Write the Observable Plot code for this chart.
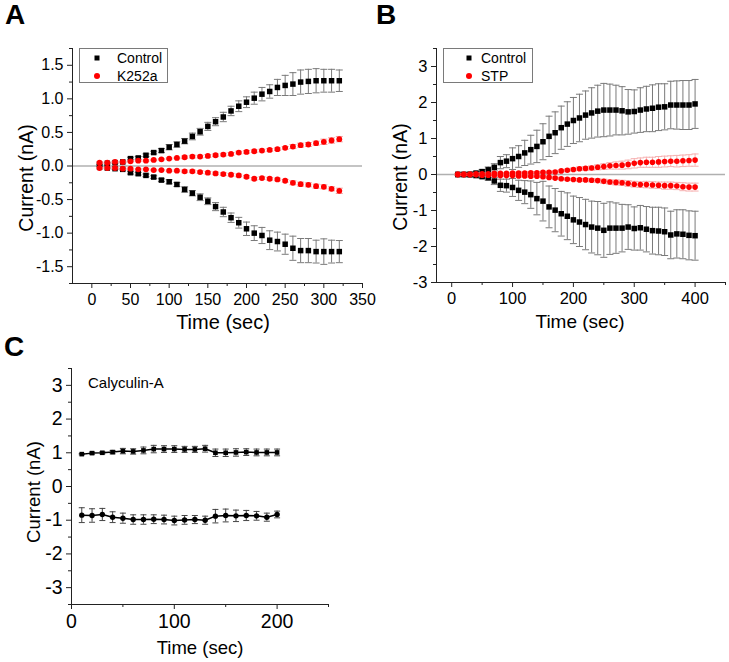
<!DOCTYPE html>
<html>
<head>
<meta charset="utf-8">
<script src="https://cdn.jsdelivr.net/npm/d3@7"></script>
<script src="https://cdn.jsdelivr.net/npm/@observablehq/plot@0.6"></script>
<style>
  html, body { margin: 0; padding: 0; background: #fff; }
  #fig { position: relative; width: 729px; height: 662px; background: #fff; overflow: hidden;
         font-family: "Liberation Sans", Arial, sans-serif; color: #000; }
  .lbl { position: absolute; line-height: 1; white-space: nowrap; }
  .letter { font-weight: bold; font-size: 28px; }
  .title { font-size: 20px; transform: translate(-50%, -50%); }
  .ytitle { font-size: 19.5px; transform: translate(-50%, -50%) rotate(-90deg); }
  .legend { position: absolute; border: 1px solid #7a7a7a; box-sizing: border-box; background: #fff; }
  .legtext { position: absolute; font-size: 14px; line-height: 1; transform: translateY(-50%); white-space: nowrap; }
  .sq { position: absolute; width: 5px; height: 5px; background: #000; transform: translate(-50%, -50%); }
  .ci { position: absolute; width: 6px; height: 6px; border-radius: 50%; background: #f00; transform: translate(-50%, -50%); }
</style>
</head>
<body>
<div id="fig"></div>
<script>
// ---------------- Data ----------------
// Panel A (time, sec)
const timeA = [10,20,30,40,50,60,70,80,90,100,110,120,130,140,150,160,170,180,190,200,210,220,230,240,250,260,270,280,290,300,310,320];
const aControlPos    = [0.03,0.04,0.05,0.06,0.11,0.12,0.16,0.20,0.23,0.28,0.32,0.37,0.44,0.51,0.59,0.66,0.73,0.82,0.89,0.95,1.01,1.07,1.11,1.17,1.20,1.22,1.25,1.26,1.27,1.27,1.27,1.27];
const aControlPosErr = [0.01,0.01,0.01,0.01,0.02,0.02,0.02,0.02,0.03,0.04,0.04,0.04,0.05,0.05,0.06,0.06,0.07,0.07,0.08,0.08,0.09,0.10,0.10,0.12,0.15,0.17,0.18,0.18,0.18,0.17,0.17,0.16];
const aControlNeg    = [-0.02,-0.03,-0.04,-0.05,-0.10,-0.115,-0.14,-0.165,-0.21,-0.235,-0.275,-0.35,-0.405,-0.465,-0.525,-0.605,-0.685,-0.77,-0.845,-0.935,-1.00,-1.035,-1.105,-1.125,-1.165,-1.225,-1.26,-1.26,-1.275,-1.275,-1.275,-1.275];
const aControlNegErr = [0.01,0.01,0.01,0.01,0.02,0.02,0.02,0.02,0.02,0.03,0.03,0.04,0.04,0.05,0.05,0.06,0.07,0.07,0.08,0.10,0.11,0.12,0.14,0.14,0.15,0.18,0.18,0.18,0.17,0.19,0.17,0.165];
const aK252aPos      = [0.05,0.05,0.06,0.06,0.07,0.08,0.08,0.09,0.10,0.11,0.12,0.13,0.14,0.14,0.15,0.16,0.17,0.18,0.20,0.21,0.22,0.23,0.24,0.25,0.27,0.29,0.31,0.32,0.34,0.36,0.38,0.40];
const aK252aPosErr   = [0.01,0.01,0.01,0.01,0.01,0.01,0.01,0.01,0.01,0.01,0.01,0.02,0.02,0.02,0.02,0.02,0.02,0.02,0.02,0.02,0.02,0.02,0.02,0.02,0.02,0.03,0.03,0.03,0.03,0.04,0.04,0.04];
const aK252aNeg      = [-0.03,-0.03,-0.03,-0.04,-0.04,-0.05,-0.05,-0.06,-0.06,-0.07,-0.07,-0.08,-0.08,-0.09,-0.10,-0.11,-0.12,-0.13,-0.14,-0.16,-0.19,-0.18,-0.19,-0.20,-0.22,-0.25,-0.27,-0.28,-0.30,-0.31,-0.34,-0.37];
const aK252aNegErr   = [0.01,0.01,0.01,0.01,0.01,0.01,0.01,0.01,0.01,0.01,0.01,0.02,0.02,0.02,0.02,0.02,0.02,0.02,0.02,0.02,0.02,0.02,0.02,0.02,0.02,0.03,0.03,0.03,0.03,0.03,0.03,0.04];

// Panel B
const timeB = [10,20,30,40,50,60,70,80,90,100,110,120,130,140,150,160,170,180,190,200,210,220,230,240,250,260,270,280,290,300,310,320,330,340,350,360,370,380,390,400];
const bControlPos    = [0.00,0.00,0.01,0.04,0.08,0.13,0.20,0.33,0.37,0.44, 0.50,0.60,0.69,0.78,0.91,1.06,1.16,1.30,1.40,1.50, 1.57,1.65,1.71,1.76,1.79,1.79,1.79,1.77,1.74,1.75, 1.79,1.82,1.84,1.87,1.88,1.93,1.93,1.93,1.93,1.96];
const bControlPosErr = [0.02,0.02,0.03,0.04,0.06,0.08,0.10,0.17,0.18,0.30, 0.30,0.35,0.40,0.45,0.50,0.56,0.58,0.60,0.62,0.64, 0.66,0.67,0.70,0.72,0.74,0.72,0.69,0.67,0.62,0.60, 0.62,0.63,0.65,0.65,0.64,0.66,0.67,0.68,0.68,0.68];
const bControlNeg    = [0.00,0.00,-0.01,-0.03,-0.06,-0.09,-0.18,-0.30,-0.31,-0.36, -0.44,-0.49,-0.56,-0.67,-0.74,-0.90,-0.99,-1.09,-1.16,-1.26, -1.32,-1.39,-1.46,-1.49,-1.55,-1.49,-1.49,-1.49,-1.46,-1.50, -1.48,-1.52,-1.56,-1.57,-1.59,-1.68,-1.65,-1.66,-1.69,-1.70];
const bControlNegErr = [0.02,0.02,0.03,0.04,0.05,0.07,0.10,0.17,0.18,0.25, 0.28,0.32,0.38,0.45,0.55,0.58,0.60,0.62,0.65,0.66, 0.68,0.70,0.72,0.74,0.75,0.73,0.70,0.66,0.62,0.60, 0.62,0.63,0.65,0.66,0.66,0.66,0.67,0.68,0.68,0.68];
const bSTPPos        = [0.01,0.01,0.01,0.02,0.02,0.02,0.03,0.03,0.03,0.04, 0.04,0.04,0.05,0.05,0.06,0.06,0.07,0.10,0.12,0.14, 0.16,0.17,0.18,0.20,0.22,0.24,0.25,0.26,0.28,0.31, 0.33,0.34,0.34,0.35,0.36,0.37,0.37,0.38,0.39,0.40];
const bSTPPosErr     = [0.02,0.02,0.02,0.02,0.02,0.02,0.02,0.02,0.02,0.02, 0.03,0.03,0.03,0.03,0.03,0.03,0.03,0.03,0.03,0.04, 0.05,0.05,0.06,0.07,0.08,0.09,0.10,0.11,0.12,0.13, 0.13,0.14,0.14,0.15,0.15,0.15,0.16,0.16,0.16,0.17];
const bSTPNeg        = [-0.01,-0.01,-0.01,-0.01,-0.02,-0.02,-0.02,-0.03,-0.03,-0.03, -0.04,-0.04,-0.05,-0.05,-0.06,-0.08,-0.10,-0.12,-0.13,-0.14, -0.15,-0.15,-0.16,-0.17,-0.19,-0.21,-0.22,-0.23,-0.25,-0.27, -0.28,-0.28,-0.29,-0.30,-0.31,-0.31,-0.32,-0.34,-0.35,-0.35];
const bSTPNegErr     = [0.02,0.02,0.02,0.02,0.02,0.02,0.02,0.02,0.02,0.02, 0.03,0.03,0.03,0.03,0.03,0.03,0.03,0.03,0.03,0.03, 0.04,0.04,0.05,0.05,0.06,0.06,0.07,0.07,0.08,0.08, 0.08,0.09,0.09,0.09,0.10,0.10,0.10,0.11,0.11,0.11];

// Panel C
const timeC = [10,20,30,40,50,60,70,80,90,100,110,120,130,140,150,160,170,180,190,200];
const cPos    = [0.96,0.99,1.00,1.02,1.05,1.04,1.07,1.11,1.11,1.11,1.10,1.10,1.12,1.00,1.00,1.01,1.02,1.01,1.01,1.01];
const cPosErr = [0.02,0.03,0.03,0.05,0.08,0.08,0.10,0.11,0.10,0.10,0.09,0.09,0.10,0.11,0.11,0.11,0.10,0.10,0.10,0.10];
const cNeg    = [-0.85,-0.86,-0.83,-0.91,-0.94,-0.98,-0.98,-0.97,-0.98,-1.01,-0.99,-0.98,-1.00,-0.88,-0.86,-0.87,-0.86,-0.87,-0.91,-0.83];
const cNegErr = [0.22,0.20,0.18,0.16,0.15,0.14,0.14,0.13,0.13,0.13,0.13,0.12,0.12,0.20,0.19,0.17,0.15,0.13,0.12,0.10];

// Axis ticks
const aXTicks = [0,50,100,150,200,250,300,350];
const aXMinor = [25,75,125,175,225,275,325];
const aYTicks = [-1.5,-1,-0.5,0,0.5,1,1.5];
const aYMinor = [-1.75,-1.25,-0.75,-0.25,0.25,0.75,1.25,1.75];
const bXTicks = [0,100,200,300,400];
const bXMinor = [50,150,250,350,450];
const bYTicks = [-3,-2,-1,0,1,2,3];
const bYMinor = [-2.5,-1.5,-0.5,0.5,1.5,2.5,3.5];
const cXTicks = [0,100,200];
const cXMinor = [50,150,250];
const cYTicks = [-3,-2,-1,0,1,2,3];
const cYMinor = [-3.5,-2.5,-1.5,-0.5,0.5,1.5,2.5,3.5];

const legendA = ["Control", "K252a"];
const legendB = ["Control", "STP"];
const xTitle = "Time (sec)";
const yTitle = "Current (nA)";

// ---------------- Helpers ----------------
const rows = (t, v, e) => t.map((x, i) => ({t: x, v: v[i], lo: v[i] - e[i], hi: v[i] + e[i]}));
const cap = {draw(ctx) { ctx.moveTo(-3.5, 0); ctx.lineTo(3.5, 0); }};
const capS = {draw(ctx) { ctx.moveTo(-3, 0); ctx.lineTo(3, 0); }};

function errBars(data, color, sym = cap, sw = 1) {
  return [
    Plot.ruleX(data, {x: "t", y1: "lo", y2: "hi", stroke: color, strokeWidth: sw}),
    Plot.dot(data, {x: "t", y: "lo", symbol: sym, r: 3, stroke: color, fill: "none", strokeWidth: sw}),
    Plot.dot(data, {x: "t", y: "hi", symbol: sym, r: 3, stroke: color, fill: "none", strokeWidth: sw})
  ];
}

function axes(xd, yd, xt, xm, yt, ym, fmtY, fs) {
  return [
    Plot.axisX({ticks: xt, tickSize: 5, tickPadding: 5, label: null, fontSize: fs, tickFormat: d => String(d), stroke: "#222"}),
    Plot.axisX({ticks: xm, tickSize: 3, tickPadding: 0, label: null, tickFormat: () => "", stroke: "#222"}),
    Plot.axisY({ticks: yt, tickSize: 5, tickPadding: 4, label: null, fontSize: fs, tickFormat: fmtY, stroke: "#222"}),
    Plot.axisY({ticks: ym, tickSize: 3, tickPadding: 0, label: null, tickFormat: () => "", stroke: "#222"}),
    Plot.ruleX([xd[0]], {stroke: "#222", strokeWidth: 1}),
    Plot.ruleY([yd[0]], {stroke: "#222", strokeWidth: 1})
  ];
}

const baseStyle = {background: "transparent", overflow: "visible", fontFamily: "'Liberation Sans', Arial, sans-serif", fontSize: "16px", color: "#000"};
const fig = document.getElementById("fig");

function place(svg, left, top) {
  svg.style.position = "absolute";
  svg.style.left = left + "px";
  svg.style.top = top + "px";
  svg.style.maxWidth = "none";
  fig.appendChild(svg);
}

// ---------------- Panel A ----------------
{
  const xd = [-25, 350], yd = [-1.75, 1.75];
  const cp = rows(timeA, aControlPos, aControlPosErr), cn = rows(timeA, aControlNeg, aControlNegErr);
  const kp = rows(timeA, aK252aPos, aK252aPosErr), kn = rows(timeA, aK252aNeg, aK252aNegErr);
  const svg = Plot.plot({
    width: 380, height: 340,
    marginLeft: 72, marginRight: 18, marginTop: 48, marginBottom: 57,
    x: {domain: xd}, y: {domain: yd},
    style: baseStyle,
    marks: [
      Plot.ruleY([0], {stroke: "#b0b0b0", strokeWidth: 1.5}),
      ...errBars(cp, "#7a7a7a"), ...errBars(cn, "#7a7a7a"),
      Plot.dot(cp, {x: "t", y: "v", symbol: "square", r: 3.1, fill: "#000"}),
      Plot.dot(cn, {x: "t", y: "v", symbol: "square", r: 3.1, fill: "#000"}),
      ...errBars(kp, "#f4a0a0"), ...errBars(kn, "#f4a0a0"),
      Plot.dot(kp, {x: "t", y: "v", r: 2.9, fill: "#f00"}),
      Plot.dot(kn, {x: "t", y: "v", r: 2.9, fill: "#f00"}),
      ...axes(xd, yd, aXTicks, aXMinor, aYTicks, aYMinor, d => d.toFixed(1), 16)
    ]
  });
  place(svg, 0, 0);
}

// ---------------- Panel B ----------------
{
  const xd = [-25, 450], yd = [-3, 3.5];
  const cp = rows(timeB, bControlPos, bControlPosErr), cn = rows(timeB, bControlNeg, bControlNegErr);
  const sp = rows(timeB, bSTPPos, bSTPPosErr), sn = rows(timeB, bSTPNeg, bSTPNegErr);
  const svg = Plot.plot({
    width: 369, height: 340,
    marginLeft: 76, marginRight: 4, marginTop: 48, marginBottom: 58,
    x: {domain: xd}, y: {domain: yd},
    style: baseStyle,
    marks: [
      Plot.ruleY([0], {stroke: "#b0b0b0", strokeWidth: 1.5}),
      ...errBars(cp, "#7a7a7a"), ...errBars(cn, "#7a7a7a"),
      Plot.dot(cp, {x: "t", y: "v", symbol: "square", r: 3.1, fill: "#000"}),
      Plot.dot(cn, {x: "t", y: "v", symbol: "square", r: 3.1, fill: "#000"}),
      ...errBars(sp, "#f6b0b0"), ...errBars(sn, "#f6b0b0"),
      Plot.dot(sp, {x: "t", y: "v", r: 2.8, fill: "#f00"}),
      Plot.dot(sn, {x: "t", y: "v", r: 2.8, fill: "#f00"}),
      ...axes(xd, yd, bXTicks, bXMinor, bYTicks, bYMinor, d => String(d), 16.5)
    ]
  });
  place(svg, 360, 0);
}

// ---------------- Panel C ----------------
{
  const xd = [0, 250], yd = [-3.5, 3.5];
  const p = rows(timeC, cPos, cPosErr), n = rows(timeC, cNeg, cNegErr);
  const svg = Plot.plot({
    width: 360, height: 332,
    marginLeft: 71, marginRight: 32, marginTop: 38, marginBottom: 58,
    x: {domain: xd}, y: {domain: yd},
    style: baseStyle,
    marks: [
      ...errBars(p, "#444", capS), ...errBars(n, "#444", capS),
      Plot.line(p, {x: "t", y: "v", stroke: "#000", strokeWidth: 1.5}),
      Plot.line(n, {x: "t", y: "v", stroke: "#000", strokeWidth: 1.5}),
      Plot.dot(p, {x: "t", y: "v", symbol: "square", r: 2.6, fill: "#000"}),
      Plot.dot(n, {x: "t", y: "v", r: 2.7, fill: "#000"}),
      ...axes(xd, yd, cXTicks, cXMinor, cYTicks, cYMinor, d => String(d), 19.5)
    ]
  });
  place(svg, 0, 330);
}

// ---------------- Text overlays ----------------
function label(text, cls, left, top, extra = {}) {
  const d = document.createElement("div");
  d.className = "lbl " + cls;
  d.textContent = text;
  d.style.left = left + "px";
  d.style.top = top + "px";
  Object.assign(d.style, extra);
  fig.appendChild(d);
  return d;
}
label("A", "letter", 5, 1);
label("B", "letter", 376, 1);
label("C", "letter", 4, 333);

label(xTitle, "title", 223, 322);
label(xTitle, "title", 580, 321, {fontSize: "19px"});
label(xTitle, "title", 200, 648, {fontSize: "18.5px"});
label(yTitle, "ytitle", 27, 178);
label(yTitle, "ytitle", 401, 177);
label(yTitle, "ytitle", 34, 492, {fontSize: "18.5px"});
label("Calyculin-A", "", 88, 382, {fontSize: "15px", transform: "translateY(-50%)"});

function legend(left, top, w, h, names, symX, textX) {
  const box = document.createElement("div");
  box.className = "legend";
  Object.assign(box.style, {left: left + "px", top: top + "px", width: w + "px", height: h + "px"});
  fig.appendChild(box);
  const sq = document.createElement("div"); sq.className = "sq";
  Object.assign(sq.style, {left: symX + "px", top: "58px"}); fig.appendChild(sq);
  const ci = document.createElement("div"); ci.className = "ci";
  Object.assign(ci.style, {left: symX + "px", top: "76px"}); fig.appendChild(ci);
  names.forEach((nm, i) => {
    const t = document.createElement("div"); t.className = "legtext"; t.textContent = nm;
    Object.assign(t.style, {left: textX + "px", top: (i === 0 ? 58 : 76) + "px"});
    fig.appendChild(t);
  });
}
legend(79, 48, 89, 35, legendA, 97, 117);
legend(443, 48, 90, 35, legendB, 469, 481);
</script>
</body>
</html>
